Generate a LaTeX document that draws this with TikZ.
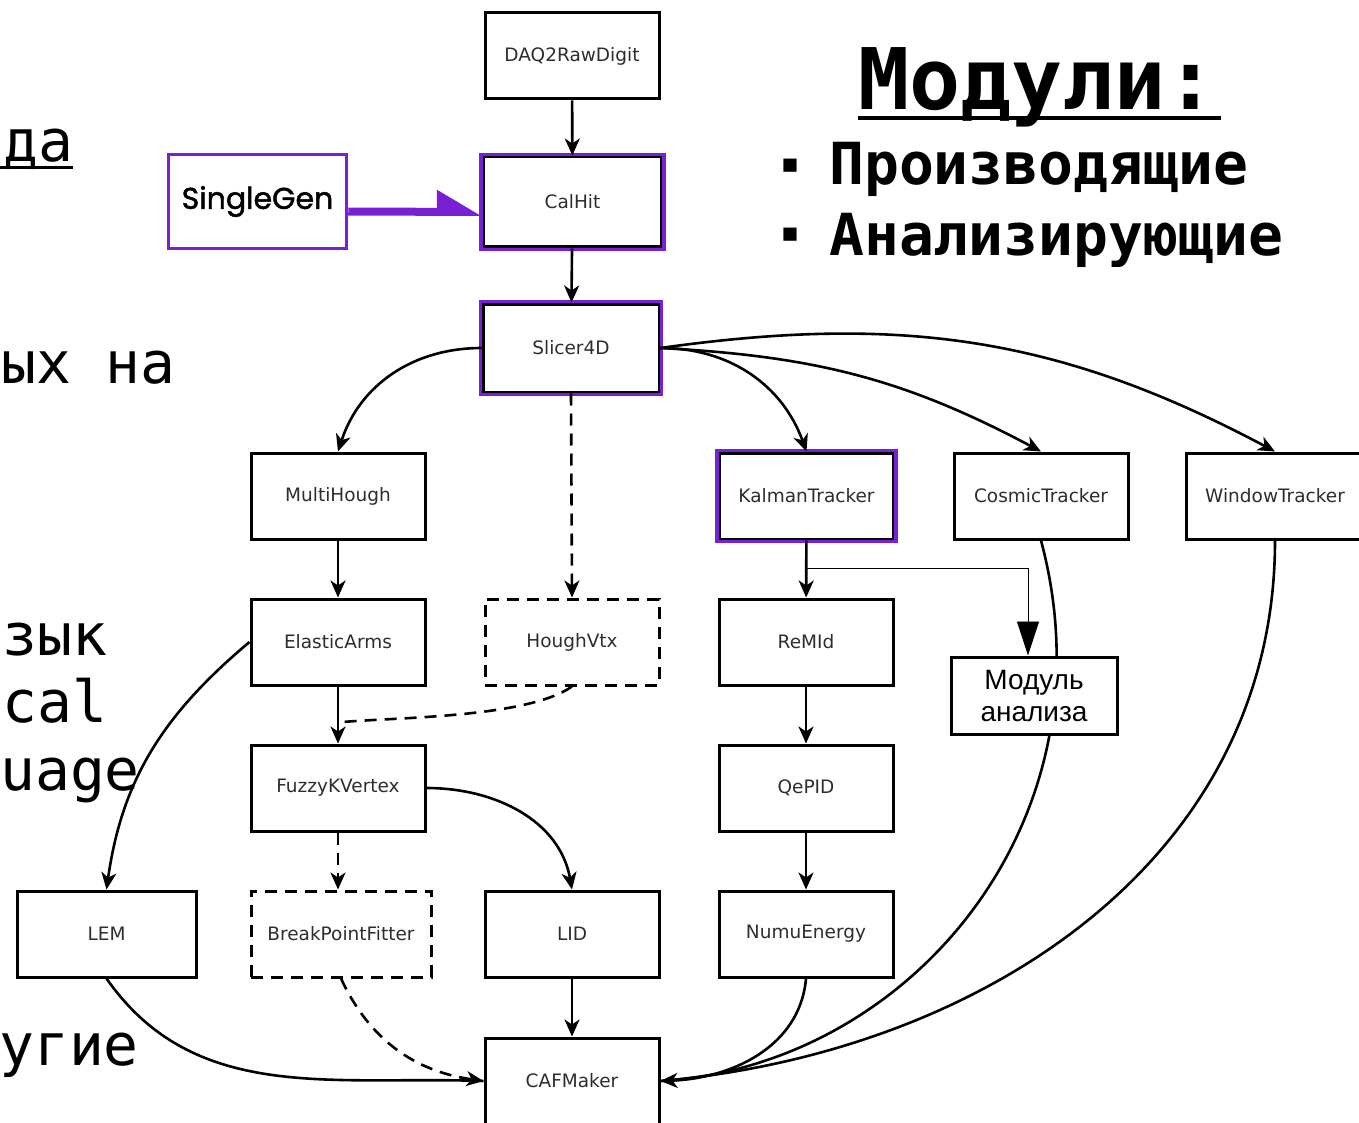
\documentclass[tikz,border=0pt]{standalone}
\usepackage{fontspec}
\setmainfont{DejaVu Sans}
\newfontfamily\monofam{DejaVu Sans Mono}
\newfontfamily\genfam{Poppins}[FakeBold=1.6]
\newfontfamily\arialfam{Liberation Sans}
\usetikzlibrary{arrows.meta}
\definecolor{hlpurple}{RGB}{123,31,214}
\definecolor{txtgrey}{RGB}{45,45,45}
\begin{document}
\begin{tikzpicture}[x=1pt,y=1pt,
  box/.style={draw=black, line width=3pt, minimum width=174pt, minimum height=86pt, inner sep=0pt,
    font=\fontsize{18.5}{20}\selectfont, text=txtgrey},
  dbox/.style={box, dash pattern=on 12pt off 8pt},
  hlframe/.style={draw=hlpurple, line width=3.5pt},
  conn/.style={line width=2.6pt, -{Stealth[length=17pt,width=15pt,inset=5pt]}},
  dconn/.style={conn, dash pattern=on 12pt off 8pt},
  dline/.style={line width=2.6pt, dash pattern=on 12pt off 8pt},
  sline/.style={line width=2.6pt},
  bigtxt/.style={font=\monofam\fontsize{58}{68}\selectfont, anchor=base west, inner sep=0pt},
  bullettxt/.style={font=\monofam\bfseries\fontsize{58}{70}\selectfont, anchor=base west, inner sep=0pt},
  bulletmark/.style={font=\monofam\fontsize{34}{34}\selectfont, inner sep=0pt},
  uline/.style={line width=3pt}
]
\useasboundingbox (0,0) rectangle (1359,-1123);
\clip (0,0) rectangle (1359,-1123);

% left cut-off text
\node[bigtxt] (t1) at (3,-162) {да};
\draw[uline] ([xshift=-4pt,yshift=-6pt]t1.base west) -- ([yshift=-6pt]t1.base east);
\node[bigtxt] (t2) at (1,-383) {ых на};
\node[bigtxt] (t3) at (2,-655) {зык};
\node[bigtxt] (t4) at (2,-722) {cal};
\node[bigtxt] (t5) at (0,-790) {uage};
\node[bigtxt] (t6) at (-1,-1065) {угие};

% title
\node[anchor=base west, inner sep=0pt, font=\monofam\bfseries\fontsize{85}{85}\selectfont] (title) at (858,-110) {Модули:};
\draw[line width=4pt] ([yshift=-8pt]title.base west) -- ([yshift=-8pt,xshift=4pt]title.base east);
\node[bulletmark] (m1) at (790,-167) {▪};
\node[bullettxt] (b1) at (829,-185) {Производящие};
\node[bulletmark] (m2) at (790,-236) {▪};
\node[bullettxt] (b2) at (829,-255) {Анализирующие};

% nodes
\node[box] (daq) at (572,-56) {DAQ2RawDigit};
\node[box, minimum width=178pt, minimum height=90pt] (calhit) at (572.5,-202) {CalHit};
\node[box, draw=hlpurple, line width=3.5pt, minimum width=178pt, minimum height=94pt,
      font=\genfam\fontsize{30}{32}\selectfont, text=black] (singlegen) at (257.5,-201.5) {SingleGen};
\node[box, minimum width=176pt, minimum height=88pt] (slicer) at (571,-348) {Slicer4D};
\node[box] (multihough) at (338,-496) {MultiHough};
\node[box] (elastic) at (338,-642) {ElasticArms};
\node[dbox] (houghvtx) at (572,-642) {HoughVtx};
\node[box] (fuzzy) at (338,-788) {FuzzyKVertex};
\node[box, minimum width=179pt] (lem) at (106.5,-934) {LEM};
\node[dbox, minimum width=180pt] (bpf) at (341,-934) {BreakPointFitter};
\node[box] (lid) at (572,-934) {LID};
\node[box] (caf) at (572,-1081) {CAFMaker};
\node[box] (kalman) at (806.5,-496) {KalmanTracker};
\node[box] (cosmic) at (1041,-496) {CosmicTracker};
\node[box, minimum width=178pt] (window) at (1275,-496) {WindowTracker};
\node[box] (remid) at (806,-642) {ReMId};
\node[box] (qepid) at (806,-788) {QePID};
\node[box] (numu) at (806,-934) {NumuEnergy};

% purple highlight frames
\draw[hlframe] ([shift={(-1,1)}]calhit.north west) rectangle ([shift={(1,-1)}]calhit.south east);
\draw[hlframe] ([shift={(-1,1)}]slicer.north west) rectangle ([shift={(1,-1)}]slicer.south east);
\draw[hlframe] ([shift={(-1,1)}]kalman.north west) rectangle ([shift={(1,-1)}]kalman.south east);

% connectors
\draw[conn] (daq) -- (calhit);
\draw[conn] (calhit) -- (slicer);
\draw[hlpurple, line width=8pt, -{Triangle[harpoon, length=38pt, width=42pt]}]
  ([yshift=-10pt]singlegen.east) -- ([yshift=-10pt]calhit.west);
\draw[conn] (slicer.west) to[out=180, in=72] (multihough.north);
\draw[dconn] (slicer.south) -- (houghvtx.north);
\draw[conn] (slicer.east) to[out=0, in=110] (kalman.north);
\draw[conn] (slicer.east) to[out=-3, in=152] (cosmic.north);
\draw[conn] (slicer.east) to[out=8, in=152] (window.north);
\draw[conn] (multihough) -- (elastic);
\draw[conn] (elastic) -- (fuzzy);
\coordinate (mrg) at (343,-722);
\draw[dline] (houghvtx.south) to[out=-145, in=5, looseness=0.6] (mrg);
\draw[conn] (elastic.west) to[out=220, in=82] (lem.north);
\draw[dconn] (fuzzy.south) -- (fuzzy.south |- bpf.north);
\draw[conn] (fuzzy.east) to[out=0, in=100] (lid.north);
\draw[conn] (lid) -- (caf);
\draw[sline] (lem.south) to[out=-55, in=178] (caf.west);
\draw[dconn] (bpf.south) to[out=-65, in=172] (caf.west);
\draw[conn] (kalman) -- (remid);
\draw[conn] (remid) -- (qepid);
\draw[conn] (qepid) -- (numu);
\draw[sline] (cosmic.south) .. controls +(75,-280) and +(250,15) .. (caf.east);
\draw[sline] (window.south) to[out=-90, in=5] (caf.east);
\draw[conn] (numu.south) to[out=-95, in=2] (caf.east);

% analysis module (opaque, over the curve)
\node[draw=black, fill=white, line width=3pt, minimum width=166pt, minimum height=77pt, inner sep=0pt,
      align=center, font=\arialfam\fontsize{28}{32}\selectfont] (modul) at (1034,-695.5) {Модуль\\анализа};
\draw[line width=0.9pt, -{Triangle[length=34pt, width=22pt]}]
  (kalman.south) ++(0,-28) -| ([xshift=-6pt]modul.north);
\end{tikzpicture}
\end{document}
